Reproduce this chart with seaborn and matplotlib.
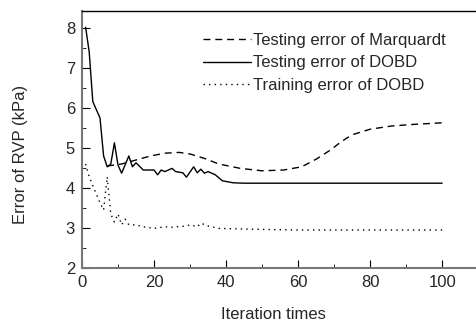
import seaborn as sns
import matplotlib.pyplot as plt
from matplotlib.ticker import MultipleLocator

dobd_test_x = [1, 2, 3, 5, 6, 7, 8, 9, 10, 11, 13, 14, 15, 17, 20, 21, 22, 23, 25, 26,
               28, 29, 31, 32, 33, 34, 35, 37, 39, 42, 45, 100]
dobd_test_y = [8.02, 7.4, 6.16, 5.75, 4.8, 4.53, 4.6, 5.13, 4.57, 4.37, 4.8, 4.53, 4.63, 4.45,
               4.45, 4.33, 4.45, 4.41, 4.49, 4.41, 4.38, 4.27, 4.53, 4.38, 4.47, 4.37, 4.41,
               4.33, 4.18, 4.13, 4.12, 4.12]

marq_x = [7, 11, 15, 19, 23, 27, 30, 34, 38, 44, 50, 56, 61, 65, 69, 72, 75, 80, 86, 92, 100]
marq_y = [4.55, 4.6, 4.7, 4.8, 4.87, 4.89, 4.85, 4.74, 4.6, 4.49, 4.43, 4.45, 4.53, 4.72,
          4.95, 5.16, 5.33, 5.47, 5.55, 5.59, 5.63]

dobd_train_x = [1, 2, 3.5, 5, 6, 7, 8, 9, 10, 11, 12, 13, 15, 17, 20, 23, 25, 29, 30, 32,
                33, 35, 38, 47, 60, 100]
dobd_train_y = [4.6, 4.28, 3.95, 3.63, 3.45, 4.28, 3.35, 3.15, 3.35, 3.08, 3.22, 3.08, 3.08,
                3.03, 2.99, 3.03, 3.02, 3.05, 3.08, 3.03, 3.12, 3.05, 2.99, 2.97, 2.95, 2.95]

sns.set_style("ticks")
plt.rcParams['font.family'] = ['Liberation Sans', 'DejaVu Sans']

fig = plt.figure(figsize=(4.76, 3.26), dpi=100)
ax = fig.add_axes([82 / 476, 58 / 326, 1 - 82 / 476, 257 / 326])

sns.lineplot(x=marq_x, y=marq_y, ax=ax, color="black", lw=1.0, linestyle=(0, (5, 3.5)),
             estimator=None, sort=False, label="Testing error of Marquardt")
sns.lineplot(x=dobd_test_x, y=dobd_test_y, ax=ax, color="black", lw=1.0,
             estimator=None, sort=False, label="Testing error of DOBD")
sns.lineplot(x=dobd_train_x, y=dobd_train_y, ax=ax, color="black", lw=1.0, linestyle=(0, (1, 3)),
             estimator=None, sort=False, label="Training error of DOBD")

ax.set_xlim(0, 109.4)
ax.set_ylim(2, 8.425)
ax.xaxis.set_major_locator(MultipleLocator(20))
ax.xaxis.set_minor_locator(MultipleLocator(10))
ax.yaxis.set_major_locator(MultipleLocator(1))
ax.yaxis.set_minor_locator(MultipleLocator(0.5))
ax.tick_params(which="both", direction="in", labelsize=12, color="black")
ax.tick_params(which="major", length=6, pad=5)
ax.tick_params(which="minor", length=3)

for s in ["left", "bottom"]:
    ax.spines[s].set_color("#777777")
    ax.spines[s].set_linewidth(1.5)
ax.spines["top"].set_visible(True)
ax.spines["top"].set_color("black")
ax.spines["top"].set_linewidth(1.0)
ax.spines["right"].set_visible(False)

ax.set_xlabel("Iteration times", fontsize=12)
ax.set_ylabel("Error of RVP (kPa)", fontsize=12)
ax.xaxis.set_label_coords(0.485, -0.15)
ax.yaxis.set_label_coords(-0.137, 0.44)

ax.legend(loc="upper left", bbox_to_anchor=(203 / 476, 1 - 33 / 326),
          bbox_transform=fig.transFigure, frameon=False, fontsize=12,
          borderpad=0, borderaxespad=0, handlelength=2.9, handletextpad=0.1,
          labelspacing=0.45)

fig.savefig("out.png", dpi=100)
